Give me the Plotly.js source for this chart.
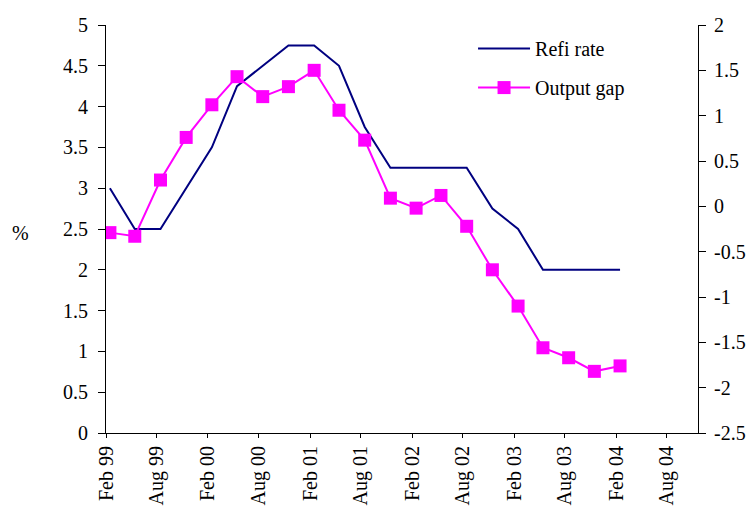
<!DOCTYPE html>
<html>
<head>
<meta charset="utf-8">
<script src="https://cdn.plot.ly/plotly-3.0.1.min.js"></script>
<style>html,body{margin:0;padding:0;background:#fff;}#chart{width:752px;height:511px;}</style>
</head>
<body>
<div id="chart"></div>
<script>
// Quarterly observations, Feb 1999 - Feb 2004 (mid-month dates)
var dates = ["1999-02-15","1999-05-15","1999-08-15","1999-11-15",
             "2000-02-15","2000-05-15","2000-08-15","2000-11-15",
             "2001-02-15","2001-05-15","2001-08-15","2001-11-15",
             "2002-02-15","2002-05-15","2002-08-15","2002-11-15",
             "2003-02-15","2003-05-15","2003-08-15","2003-11-15",
             "2004-02-15"];
var refiRate = [3.0, 2.5, 2.5, 3.0, 3.5, 4.25, 4.5, 4.75, 4.75, 4.5, 3.75, 3.25,
                3.25, 3.25, 3.25, 2.75, 2.5, 2.0, 2.0, 2.0, 2.0];
var outputGap = [-0.29, -0.33, 0.29, 0.76, 1.12, 1.43, 1.21, 1.32, 1.50, 1.06, 0.73, 0.09,
                 -0.02, 0.12, -0.22, -0.70, -1.10, -1.56, -1.67, -1.82, -1.76];
var leftTickVals = [0, 0.5, 1, 1.5, 2, 2.5, 3, 3.5, 4, 4.5, 5];
var leftTickText = ["0","0.5","1","1.5","2","2.5","3","3.5","4","4.5","5"];
var rightTickVals = [-2.5, -2, -1.5, -1, -0.5, 0, 0.5, 1, 1.5, 2];
var rightTickText = ["-2.5","-2","-1.5","-1","-0.5","0","0.5","1","1.5","2"];

var font = {family: "Liberation Serif, Times New Roman, serif", size: 20, color: "#000"};

var traces = [
  {x: dates, y: refiRate, name: "Refi rate", type: "scatter", mode: "lines",
   line: {color: "#000080", width: 2}, yaxis: "y", legendgroup: "a"},
  {x: dates, y: outputGap, name: "Output gap", type: "scatter", mode: "lines+markers",
   line: {color: "#FF00FF", width: 2},
   marker: {symbol: "square", size: 13, color: "#FF00FF"}, yaxis: "y2", legendgroup: "b"}
];

var layout = {
  width: 752, height: 511,
  margin: {l: 106, r: 54, t: 25, b: 78, pad: 0},
  paper_bgcolor: "#fff", plot_bgcolor: "#fff",
  font: font,
  showlegend: true,
  legend: {x: 0.62, y: 0.99, xanchor: "left", yanchor: "top", bgcolor: "rgba(0,0,0,0)",
           font: font, traceorder: "grouped", tracegroupgap: 10, itemwidth: 52},
  xaxis: {type: "date", range: ["1999-02-01", "2004-11-20"], tick0: "1999-02-01", dtick: "M6",
          tickformat: "%b %y", tickangle: -90, ticks: "outside", ticklen: 4, tickcolor: "#000",
          showline: true, linecolor: "#000", linewidth: 1, showgrid: false, zeroline: false,
          tickfont: font, fixedrange: true},
  yaxis: {range: [0, 5], tickvals: leftTickVals, ticktext: leftTickText, ticks: "outside",
          ticklen: 7, tickcolor: "#000", showline: true, linecolor: "#000", linewidth: 1,
          showgrid: false, zeroline: false, tickfont: font, ticklabelstandoff: 6},
  yaxis2: {range: [-2.5, 2], tickvals: rightTickVals, ticktext: rightTickText, overlaying: "y",
           side: "right", ticks: "outside", ticklen: 7, tickcolor: "#000", showline: true,
           linecolor: "#000", linewidth: 1, showgrid: false, zeroline: false, tickfont: font,
           ticklabelstandoff: 4},
  annotations: [{text: "%", xref: "paper", yref: "paper", x: -0.145, y: 0.49,
                 xanchor: "center", yanchor: "middle", showarrow: false, font: font}]
};

Plotly.newPlot("chart", traces, layout, {displayModeBar: false, staticPlot: true});
</script>
</body>
</html>
